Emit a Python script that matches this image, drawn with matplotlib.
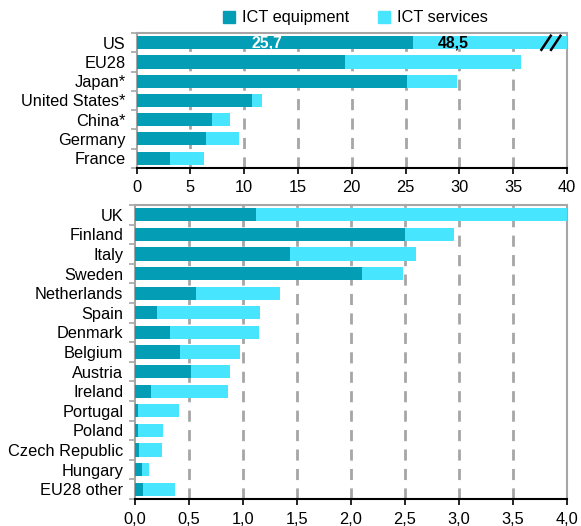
import numpy as np
import matplotlib
matplotlib.use("Agg")
import matplotlib.pyplot as plt
from matplotlib.lines import Line2D

plt.rcParams["font.family"] = ["Liberation Sans", "DejaVu Sans"]

EQUIP_C = "#039db5"
SERV_C = "#48e5ff"
GRID_C = "#a6a6a6"
FS = 11.8

# ── data ─────────────────────────────────────────────────────────────────────
top_labels = ["US", "EU28", "Japan*", "United States*", "China*", "Germany", "France"]
top_equip = [25.7, 19.4, 25.1, 10.7, 7.0, 6.5, 3.15]
top_total = [48.5, 35.7, 29.8, 11.7, 8.7, 9.5, 6.25]

bot_labels = ["UK", "Finland", "Italy", "Sweden", "Netherlands", "Spain", "Denmark",
              "Belgium", "Austria", "Ireland", "Portugal", "Poland",
              "Czech Republic", "Hungary", "EU28 other"]
bot_equip = [1.12, 2.50, 1.44, 2.10, 0.57, 0.21, 0.33, 0.42, 0.52, 0.15,
             0.03, 0.03, 0.045, 0.065, 0.08]
bot_total = [4.05, 2.95, 2.60, 2.48, 1.35, 1.16, 1.15, 0.98, 0.88, 0.86,
             0.41, 0.26, 0.25, 0.13, 0.375]

top_xticks = [0, 5, 10, 15, 20, 25, 30, 35, 40]
bot_xticks = [0.0, 0.5, 1.0, 1.5, 2.0, 2.5, 3.0, 3.5, 4.0]

fig = plt.figure(figsize=(5.81, 5.26), dpi=100)
ax_top = fig.add_axes([0.235, 0.681, 0.741, 0.256])
ax_bot = fig.add_axes([0.2315, 0.0513, 0.7445, 0.559])


def draw_panel(ax, labels, equip, total, xmax, xticks, fmt):
    n = len(labels)
    y = np.arange(n)
    equip = np.array(equip)
    serv = np.array(total) - equip
    ax.barh(y, equip, height=0.68, color=EQUIP_C, zorder=3)
    ax.barh(y, serv, left=equip, height=0.68, color=SERV_C, zorder=3)
    ax.set_ylim(n - 0.5, -0.5)
    ax.set_xlim(0, xmax)
    ax.set_yticks(y)
    ax.set_yticklabels(labels, fontsize=FS)
    ax.tick_params(axis="y", length=0, pad=8)
    ax.set_yticks(np.arange(n + 1) - 0.5, minor=True)
    ax.tick_params(axis="y", which="minor", length=4, color=GRID_C, width=1.2)
    ax.set_xticks(xticks)
    ax.set_xticklabels([fmt(v) for v in xticks], fontsize=FS)
    ax.tick_params(axis="x", length=4, width=1.2, color="black", pad=5)
    for v in xticks[1:-1]:
        ax.axvline(v, color=GRID_C, lw=2, linestyle=(0, (4, 3)), zorder=1)
    for s in ("top", "left", "right"):
        ax.spines[s].set_color(GRID_C)
        ax.spines[s].set_linewidth(1.5)
    ax.spines["bottom"].set_color("black")
    ax.spines["bottom"].set_linewidth(1.5)
    ax.spines["bottom"].set_zorder(4)


draw_panel(ax_top, top_labels, top_equip, top_total, 40, top_xticks,
           lambda v: f"{v:d}")
draw_panel(ax_bot, bot_labels, bot_equip, bot_total, 4.0, bot_xticks,
           lambda v: f"{v:.1f}".replace(".", ","))

# value labels on the broken US bar
ax_top.text(top_equip[0] / 2 - 0.7, 0, f"{top_equip[0]:.1f}".replace(".", ","),
            color="white", fontweight="bold", fontsize=FS - 0.5,
            ha="center", va="center", zorder=5)
ax_top.text(29.4, 0, f"{top_total[0]:.1f}".replace(".", ","),
            color="black", fontweight="bold", fontsize=FS - 0.5,
            ha="center", va="center", zorder=5)
# break marker
for dx in (-0.45, 0.45):
    ax_top.plot([38.0 + dx, 39.0 + dx], [0.42, -0.42], color="black", lw=1.8,
                zorder=6, solid_capstyle="butt")

# legend
handles = [Line2D([], [], marker="s", color=EQUIP_C, linestyle="none", markersize=8),
           Line2D([], [], marker="s", color=SERV_C, linestyle="none", markersize=8)]
fig.legend(handles, ["ICT equipment", "ICT services"], loc="center",
           bbox_to_anchor=(0.61, 0.966), ncol=2, frameon=False, fontsize=FS,
           handletextpad=0.3, columnspacing=1.6, handlelength=1.0)

fig.savefig("out.png", dpi=100)
